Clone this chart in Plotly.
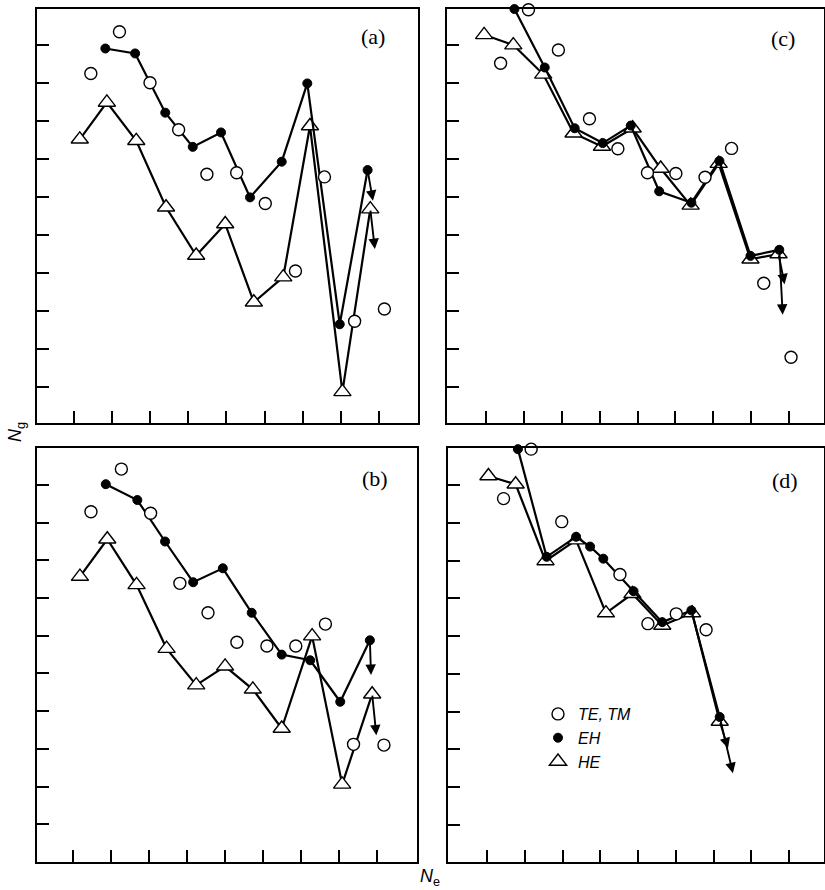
import plotly.graph_objects as go

# ---- panel (a) ----
te_x_a = [1.45, 2.20, 3.00, 3.75, 4.49, 5.27, 6.02, 6.81, 7.57, 8.36, 9.14]
te_y_a = [9.25, 10.35, 9.01, 7.77, 6.60, 6.64, 5.83, 4.05, 6.53, 2.73, 3.05]
eh_x_a = [1.83, 2.61, 3.40, 4.12, 4.86, 5.62, 6.45, 7.12, 7.97, 8.70]
eh_y_a = [9.91, 9.78, 8.22, 7.32, 7.70, 5.99, 6.93, 8.99, 2.65, 6.71]
he_x_a = [1.16, 1.87, 2.64, 3.42, 4.21, 4.97, 5.72, 6.49, 7.19, 8.04, 8.77]
he_y_a = [7.52, 8.49, 7.48, 5.73, 4.46, 5.29, 3.23, 3.89, 7.87, 0.87, 5.68]
eh_arrow_a = (8.84, 5.90)
he_arrow_a = (8.89, 4.63)

# ---- panel (b) ----
te_x_b = [1.47, 2.27, 3.04, 3.81, 4.55, 5.31, 6.10, 6.86, 7.64, 8.38, 9.18]
te_y_b = [9.29, 10.42, 9.25, 7.39, 6.61, 5.83, 5.73, 5.73, 6.31, 3.12, 3.10]
eh_x_b = [1.86, 2.69, 3.42, 4.16, 4.94, 5.70, 6.49, 7.24, 8.03, 8.81]
eh_y_b = [10.02, 9.60, 8.50, 7.42, 7.79, 6.61, 5.50, 5.35, 4.25, 5.88]
he_x_b = [1.18, 1.90, 2.67, 3.46, 4.24, 5.00, 5.73, 6.49, 7.29, 8.08, 8.87]
he_y_b = [7.57, 8.56, 7.35, 5.66, 4.69, 5.19, 4.58, 3.54, 5.99, 2.06, 4.45]
eh_arrow_b = (8.84, 4.96)
he_arrow_b = (8.98, 3.36)

# ---- panel (c) ----
te_x_c = [1.385, 2.12, 2.91, 3.73, 4.48, 5.26, 6.01, 6.78, 7.48, 8.33, 9.05]
te_y_c = [9.52, 10.93, 9.87, 8.06, 7.27, 6.64, 6.62, 6.52, 7.28, 3.73, 1.78]
eh_x_c = [1.75, 2.55, 3.34, 4.08, 4.82, 5.57, 6.42, 7.16, 7.98, 8.74]
eh_y_c = [10.95, 9.41, 7.81, 7.42, 7.88, 6.15, 5.85, 6.95, 4.45, 4.61]
he_x_c = [0.95, 1.72, 2.51, 3.31, 4.06, 4.87, 5.61, 6.40, 7.14, 7.98, 8.72]
he_y_c = [10.27, 10.0, 9.23, 7.68, 7.33, 7.81, 6.75, 5.78, 6.88, 4.36, 4.50]
eh_arrow_c = (8.83, 2.90)
he_arrow_c = (8.88, 3.70)

# ---- panel (d) ----
te_x_d = [1.44, 2.17, 2.98, 4.52, 5.26, 6.01, 6.80]
te_y_d = [9.64, 10.95, 9.03, 7.63, 6.33, 6.59, 6.17]
eh_x_d = [1.82, 2.58, 3.36, 3.73, 4.08, 4.88, 5.64, 6.41, 7.16]
eh_y_d = [10.95, 8.10, 8.63, 8.37, 8.05, 7.19, 6.37, 6.68, 3.86]
he_x_d = [1.04, 1.76, 2.55, 3.36, 4.15, 4.85, 5.64, 6.43, 7.16]
he_y_d = [10.24, 10.02, 7.99, 8.54, 6.61, 7.12, 6.28, 6.61, 3.74]
eh_arrow_d = (7.51, 2.37)
he_arrow_d = (7.38, 3.03)

x_ticks = [1, 2, 3, 4, 5, 6, 7, 8, 9]
y_ticks = [1, 2, 3, 4, 5, 6, 7, 8, 9, 10]
panel_labels = ["(a)", "(c)", "(b)", "(d)"]
series_names = ["TE, TM", "EH", "HE"]

W, H = 825, 890


def dom_x(left, right):
    return [left / W, right / W]


def dom_y(top, bottom):
    return [1 - bottom / H, 1 - top / H]


# pixel boxes (left, right, top, bottom), axis ranges, label position
panels = [
    dict(te=(te_x_a, te_y_a), eh=(eh_x_a, eh_y_a), he=(he_x_a, he_y_a),
         eh_arrow=eh_arrow_a, he_arrow=he_arrow_a,
         box=(37, 418, 9, 423), xr=[0.04, 10.02], yr=[0.05, 10.95],
         label=panel_labels[0], lpos=(373, 37)),
    dict(te=(te_x_c, te_y_c), eh=(eh_x_c, eh_y_c), he=(he_x_c, he_y_c),
         eh_arrow=eh_arrow_c, he_arrow=he_arrow_c,
         box=(447, 824, 9, 423), xr=[-0.03, 9.92], yr=[0.05, 10.95],
         label=panel_labels[1], lpos=(783, 38)),
    dict(te=(te_x_b, te_y_b), eh=(eh_x_b, eh_y_b), he=(he_x_b, he_y_b),
         eh_arrow=eh_arrow_b, he_arrow=he_arrow_b,
         box=(37, 417, 448, 862), xr=[0.05, 10.05], yr=[0.0, 10.98],
         label=panel_labels[2], lpos=(375, 478)),
    dict(te=(te_x_d, te_y_d), eh=(eh_x_d, eh_y_d), he=(he_x_d, he_y_d),
         eh_arrow=eh_arrow_d, he_arrow=he_arrow_d,
         box=(448, 824, 448, 862), xr=[-0.03, 9.92], yr=[0.02, 10.98],
         label=panel_labels[3], lpos=(785, 480)),
]

open_marker = dict(symbol="circle", size=12, color="white",
                   line=dict(color="black", width=1.4))
filled_marker = dict(symbol="circle", size=9, color="black",
                     line=dict(color="black", width=1))
tri_marker = dict(symbol="triangle-up", size=15, color="white",
                  line=dict(color="black", width=1.4))

fig = go.Figure()
annotations = []

for i, p in enumerate(panels, start=1):
    xa = "x" if i == 1 else f"x{i}"
    ya = "y" if i == 1 else f"y{i}"
    # HE connected triangles
    fig.add_trace(go.Scatter(
        x=p["he"][0], y=p["he"][1], mode="lines+markers", xaxis=xa, yaxis=ya,
        line=dict(color="black", width=2.2), marker=tri_marker,
        showlegend=False, cliponaxis=False, hoverinfo="skip"))
    # EH connected filled circles
    fig.add_trace(go.Scatter(
        x=p["eh"][0], y=p["eh"][1], mode="lines+markers", xaxis=xa, yaxis=ya,
        line=dict(color="black", width=2.2), marker=filled_marker,
        showlegend=False, cliponaxis=False, hoverinfo="skip"))
    # TE, TM open circles
    fig.add_trace(go.Scatter(
        x=p["te"][0], y=p["te"][1], mode="markers", xaxis=xa, yaxis=ya,
        marker=open_marker, showlegend=False, cliponaxis=False,
        hoverinfo="skip"))

    # downward arrows from the last EH / HE points
    for key, series in (("he_arrow", "he"), ("eh_arrow", "eh")):
        tip = p[key]
        annotations.append(dict(
            x=tip[0], y=tip[1], ax=p[series][0][-1], ay=p[series][1][-1],
            xref=xa, yref=ya, axref=xa, ayref=ya, text="", showarrow=True,
            arrowhead=2, arrowsize=1.1, arrowwidth=1.9, arrowcolor="black"))

    # panel label
    annotations.append(dict(
        x=p["lpos"][0] / W, y=1 - p["lpos"][1] / H, xref="paper",
        yref="paper", text=p["label"], showarrow=False,
        xanchor="center", yanchor="middle",
        font=dict(family="Liberation Serif", size=22, color="black")))

    l, r, t, b = p["box"]
    axis_common = dict(showgrid=False, zeroline=False, showline=True,
                       linecolor="black", linewidth=2, mirror=True,
                       ticks="inside", ticklen=12, tickwidth=1.5,
                       tickcolor="black", showticklabels=False,
                       fixedrange=True)
    fig.update_layout(**{
        ("xaxis" if i == 1 else f"xaxis{i}"): dict(
            domain=dom_x(l, r), range=p["xr"], tickvals=x_ticks,
            anchor=ya, **axis_common),
        ("yaxis" if i == 1 else f"yaxis{i}"): dict(
            domain=dom_y(t, b), range=p["yr"], tickvals=y_ticks,
            anchor=xa, **axis_common),
    })

# legend entries (markers only), placed in panel (d)
for name, mk in zip(series_names, [open_marker, filled_marker, tri_marker]):
    fig.add_trace(go.Scatter(
        x=[None], y=[None], mode="markers", name=name, marker=mk,
        xaxis="x4", yaxis="y4", showlegend=True))

# axis titles
annotations.append(dict(
    x=17 / W, y=1 - 432 / H, xref="paper", yref="paper",
    text="<i>N</i><sub>g</sub>", showarrow=False, textangle=-90,
    xanchor="center", yanchor="middle",
    font=dict(family="Liberation Sans", size=18, color="black")))
annotations.append(dict(
    x=430 / W, y=1 - 877 / H, xref="paper", yref="paper",
    text="<i>N</i><sub>e</sub>", showarrow=False,
    xanchor="center", yanchor="middle",
    font=dict(family="Liberation Sans", size=18, color="black")))

fig.update_layout(
    width=W, height=H, margin=dict(l=0, r=0, t=0, b=0),
    paper_bgcolor="white", plot_bgcolor="white",
    annotations=annotations,
    legend=dict(x=538 / W, y=1 - 697 / H, xanchor="left", yanchor="top",
                bgcolor="rgba(0,0,0,0)", borderwidth=0,
                font=dict(family="Liberation Sans", size=16, style="italic",
                          color="black"),
                itemwidth=30, tracegroupgap=0),
)

fig.write_html("out.html")
